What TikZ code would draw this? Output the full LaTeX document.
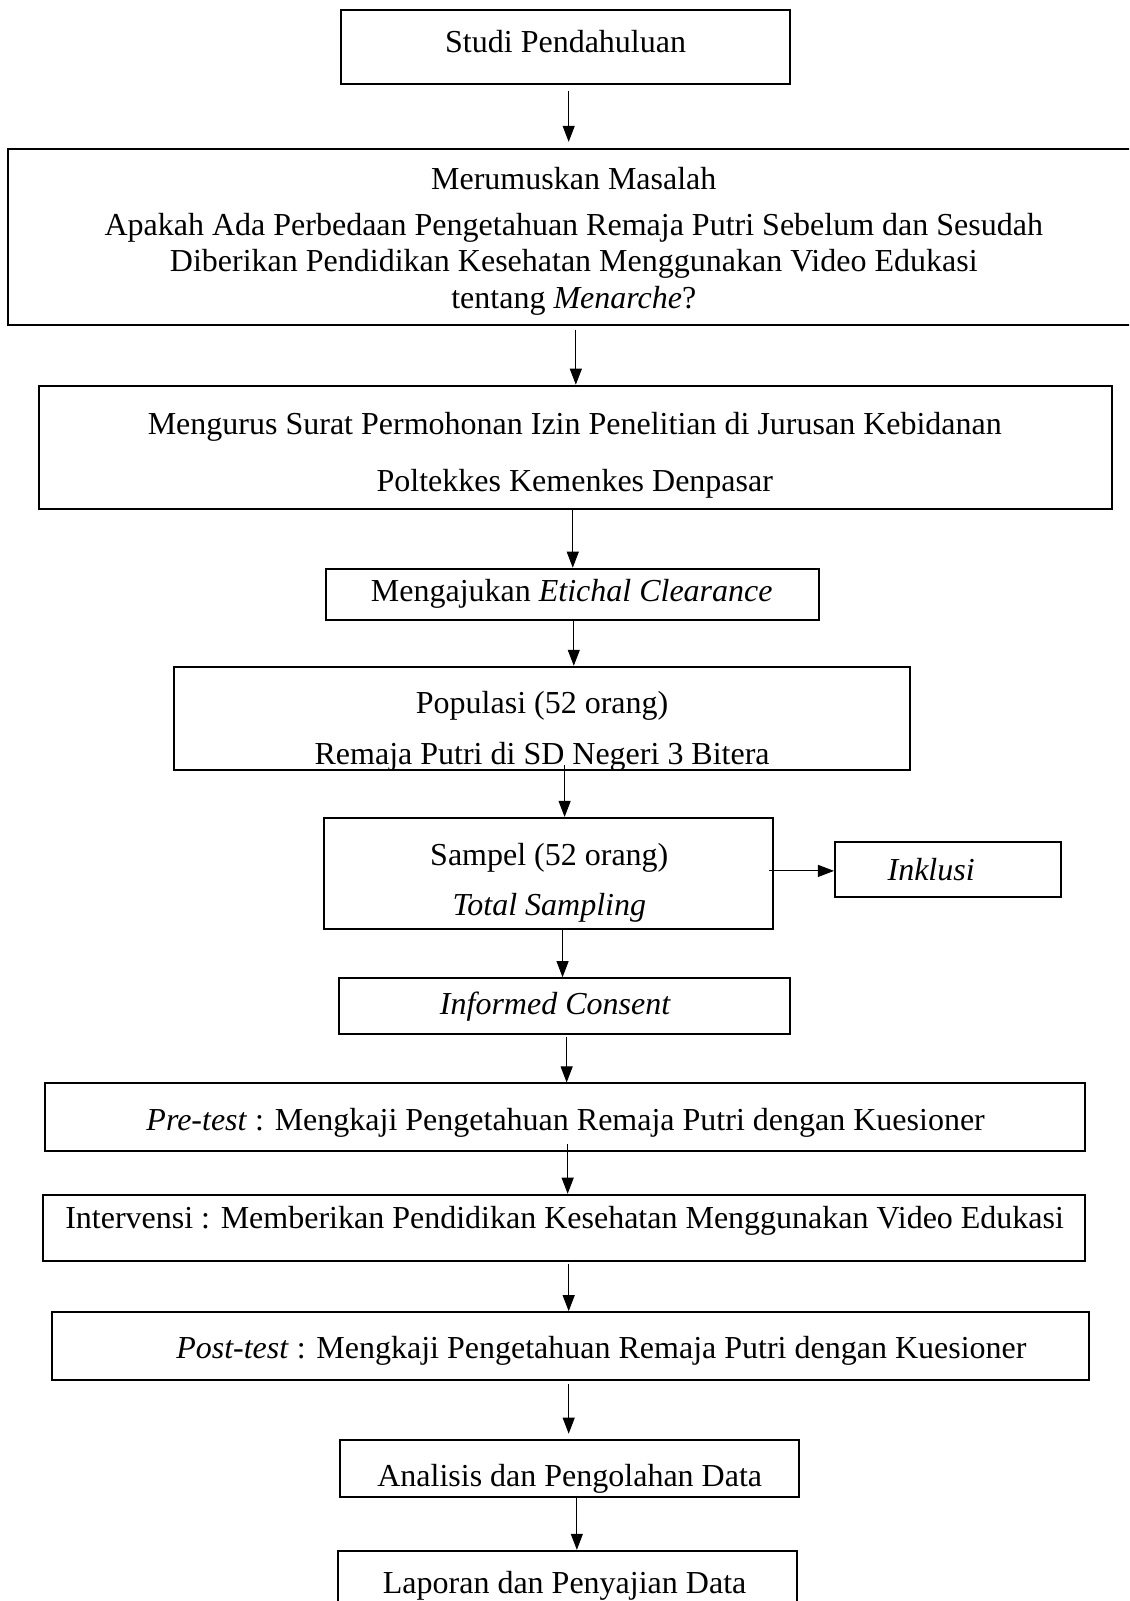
\documentclass[tikz,border=0pt]{standalone}
\usepackage{fontspec}
\setmainfont{Liberation Serif}
\usetikzlibrary{arrows.meta}
\begin{document}
\begin{tikzpicture}[x=1.021pt,y=-1.021pt,
  box/.style={draw, line width=2pt, inner sep=0pt},
  txt/.style={font=\fontsize{32}{38}\selectfont, inner sep=0pt, anchor=base},
  arr/.style={line width=1pt, -{Triangle[length=16pt,width=12pt]}}]
\useasboundingbox (0,0) rectangle (1105.8,1568.1);
\clip (0,0) rectangle (1105.8,1568.1);
% boxes
\node[box, minimum width=449pt, minimum height=74pt]  (b1)  at (553.5,46) {};
\node[box, minimum width=1151pt, minimum height=176pt] (b2) at (571.5,232) {};
\node[box, minimum width=1073pt, minimum height=123pt] (b3) at (563.5,438) {};
\node[box, minimum width=493pt, minimum height=51pt]  (b4)  at (560.5,582) {};
\node[box, minimum width=736pt, minimum height=103pt] (b5)  at (530.5,703.5) {};
\node[box, minimum width=449pt, minimum height=111pt] (b6)  at (537,855.5) {};
\node[box, minimum width=226pt, minimum height=55pt]  (b7)  at (928.5,852) {};
\node[box, minimum width=451pt, minimum height=56pt]  (b8)  at (553,985.5) {};
\node[box, minimum width=1040pt, minimum height=68pt] (b9)  at (553.5,1094.5) {};
\node[box, minimum width=1042pt, minimum height=66pt] (b10) at (552.5,1202.5) {};
\node[box, minimum width=1037pt, minimum height=68pt] (b11) at (559,1318.5) {};
\node[box, minimum width=459pt, minimum height=57pt]  (b12) at (558,1438) {};
\node[box, minimum width=459pt, minimum height=93pt]  (b13) at (556,1564.5) {};
% texts
\node[txt] (t1) at (554,51) {Studi Pendahuluan};
\node[txt] (t2a) at (562,186) {Merumuskan Masalah};
\node[txt] (t2b) at (562,231) {Apakah Ada Perbedaan Pengetahuan Remaja Putri Sebelum dan Sesudah};
\node[txt] (t2c) at (562,266) {Diberikan Pendidikan Kesehatan Menggunakan Video Edukasi};
\node[txt] (t2d) at (562,302) {tentang \textit{Menarche}?};
\node[txt] (t3a) at (563,426) {Mengurus Surat Permohonan Izin Penelitian di Jurusan Kebidanan};
\node[txt] (t3b) at (563,481) {Poltekkes Kemenkes Denpasar};
\node[txt] (t4) at (560,589) {Mengajukan \textit{Etichal Clearance}};
\node[txt] (t5a) at (531,699) {Populasi (52 orang)};
\node[txt] (t5b) at (531,749) {Remaja Putri di SD Negeri 3 Bitera};
\node[txt] (t6a) at (538,848) {Sampel (52 orang)};
\node[txt] (t6b) at (538,897) {\textit{Total Sampling}};
\node[txt] (t7) at (912,862) {\textit{Inklusi}};
\node[txt] (t8) at (544,994) {\textit{Informed Consent}};
\node[txt] (t9) at (554,1107) {\textit{Pre-test} : Mengkaji Pengetahuan Remaja Putri dengan Kuesioner};
\node[txt] (t10) at (553,1203) {Intervensi : Memberikan Pendidikan Kesehatan Menggunakan Video Edukasi};
\node[txt] (t11) at (589,1331) {\textit{Post-test} : Mengkaji Pengetahuan Remaja Putri dengan Kuesioner};
\node[txt] (t12) at (558,1456) {Analisis dan Pengolahan Data};
\node[txt] (t13) at (553,1561) {Laporan dan Penyajian Data};
% connector x positions
\coordinate (x1) at (557,0);
\coordinate (x2) at (564,0);
\coordinate (x3) at (561,0);
\coordinate (x4) at (562,0);
\coordinate (x5) at (553,0);
\coordinate (x6) at (551,0);
\coordinate (x7) at (555,0);
\coordinate (x8) at (556,0);
\coordinate (x9) at (557,0);
\coordinate (x10) at (557,0);
\coordinate (x11) at (565,0);
\coordinate (yi) at (0,853);
% connectors
\draw[arr, shorten <=6pt, shorten >=6pt] (b1.south -| x1) -- (b2.north -| x1);
\draw[arr, shorten <=4pt] (b2.south -| x2) -- (b3.north -| x2);
\draw[arr] (b3.south -| x3) -- (b4.north -| x3);
\draw[arr] (b4.south -| x4) -- (b5.north -| x4);
\draw[arr, shorten <=-6pt] (b5.south -| x5) -- (b6.north -| x5);
\draw[arr] (b6.south -| x6) -- (b8.north -| x6);
\draw[arr, shorten <=2pt] (b8.south -| x7) -- (b9.north -| x7);
\draw[arr, shorten <=-8pt] (b9.south -| x8) -- (b10.north -| x8);
\draw[arr, shorten <=2pt] (b10.south -| x9) -- (b11.north -| x9);
\draw[arr, shorten <=3pt, shorten >=5pt] (b11.south -| x10) -- (b12.north -| x10);
\draw[arr, shorten <=-2pt] (b12.south -| x11) -- (b13.north -| x11);
\draw[arr, shorten <=-5pt] (b6.east |- yi) -- (b7.west |- yi);
\end{tikzpicture}
\end{document}
